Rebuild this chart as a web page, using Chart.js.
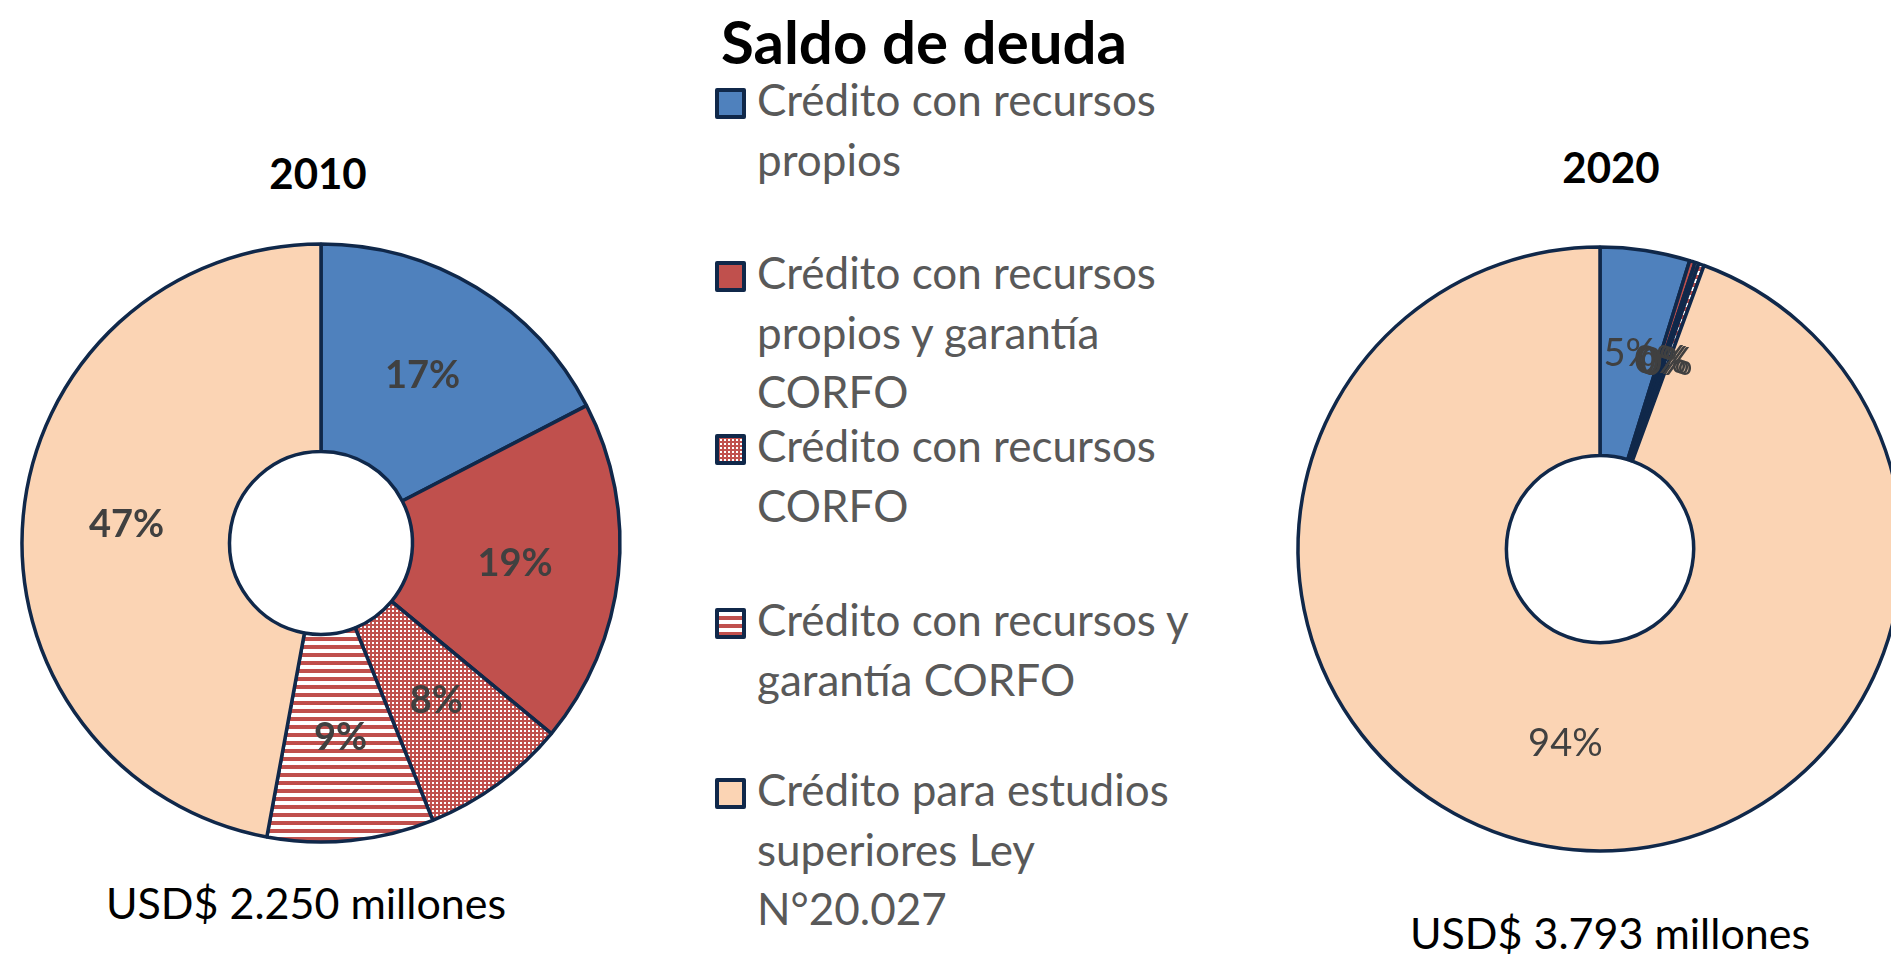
<!DOCTYPE html>
<html>
<head>
<meta charset="utf-8">
<script src="https://cdn.jsdelivr.net/npm/chart.js@4.4.1/dist/chart.umd.min.js"></script>
<style>
  html, body { margin: 0; padding: 0; background: #fff; }
  body { width: 1891px; height: 957px; overflow: hidden; position: relative; font-family: Lato, "Noto Sans", sans-serif; }
  .txt { position: absolute; white-space: nowrap; line-height: 1.2; }
  .center { width: 1000px; text-align: center; }
  canvas.pie { position: absolute; }
  .legend-item { position: absolute; left: 715px; }
  .legend-item canvas { position: absolute; left: 0; }
  .legend-item .lbl { position: absolute; left: 42px; color: #595959; font-size: 44px; line-height: 59.5px; white-space: nowrap; }
</style>
</head>
<body>
<div class="txt center" id="mainTitle" style="left:424px; top:5px; font-size:60px; font-weight:700; color:#000;"></div>
<div class="txt center" id="year0" style="left:-182px; top:148px; font-size:42px; font-weight:700; color:#000;"></div>
<div class="txt center" id="year1" style="left:1111px; top:142px; font-size:42px; font-weight:700; color:#000;"></div>
<div class="txt center" id="total0" style="left:-194px; top:877px; font-size:43px; color:#000;"></div>
<div class="txt center" id="total1" style="left:1110px; top:907px; font-size:43px; color:#000;"></div>
<canvas class="pie" id="pie2010" width="660" height="660" style="left:-9px; top:213px;"></canvas>
<canvas class="pie" id="pie2020" width="660" height="660" style="left:1270px; top:219px;"></canvas>
<div id="legend"></div>

<script>
  // data
  const chartTitle = "Saldo de deuda";
  const categories = [
    ["Crédito con recursos", "propios"],
    ["Crédito con recursos", "propios y garantía", "CORFO"],
    ["Crédito con recursos", "CORFO"],
    ["Crédito con recursos y", "garantía CORFO"],
    ["Crédito para estudios", "superiores Ley", "N°20.027"],
  ];
  const years = ["2010", "2020"];
  const values2010 = [17.4, 18.6, 7.9, 9.0, 47.1];
  const values2020 = [4.8, 0.3, 0.2, 0.3, 94.4];
  const totals = ["USD$ 2.250 millones", "USD$ 3.793 millones"];

  const navy = "#10284A";
  const blue = "#4F81BD";
  const red = "#C0504D";
  const peach = "#FBD4B4";

  function makePattern(size, draw) {
    const c = document.createElement("canvas");
    c.width = size;
    c.height = size;
    const g = c.getContext("2d");
    draw(g);
    return g.createPattern(c, "repeat");
  }

  const dotted = makePattern(4, (g) => {
    g.fillStyle = red;
    g.fillRect(0, 0, 4, 4);
    g.fillStyle = "#fff";
    g.fillRect(1, 1, 2, 2);
  });

  const striped = makePattern(8, (g) => {
    g.fillStyle = "#fff";
    g.fillRect(0, 0, 8, 8);
    g.fillStyle = red;
    g.fillRect(0, 0, 8, 4);
  });

  const fills = [blue, red, dotted, striped, peach];

  document.getElementById("mainTitle").textContent = chartTitle;
  years.forEach((y, i) => (document.getElementById("year" + i).textContent = y));
  totals.forEach((t, i) => (document.getElementById("total" + i).textContent = t));

  // legend
  const legendTops = [82, 255, 428, 602, 772];
  const legend = document.getElementById("legend");
  categories.forEach((lines, i) => {
    const item = document.createElement("div");
    item.className = "legend-item";
    item.style.top = legendTops[i] + "px";
    const box = document.createElement("canvas");
    box.width = 31;
    box.height = 31;
    box.style.top = "6px";
    const g = box.getContext("2d");
    g.fillStyle = fills[i];
    g.fillRect(2, 2, 27, 27);
    g.strokeStyle = navy;
    g.lineWidth = 4;
    g.lineJoin = "round";
    g.strokeRect(2, 2, 27, 27);
    const lbl = document.createElement("div");
    lbl.className = "lbl";
    lbl.style.top = "-12px";
    lbl.innerHTML = lines.join("<br>");
    item.appendChild(box);
    item.appendChild(lbl);
    legend.appendChild(item);
  });

  const sliceLabels = {
    id: "sliceLabels",
    afterDatasetsDraw(chart, args, opts) {
      const { ctx } = chart;
      const data = chart.data.datasets[0].data;
      const total = data.reduce((a, b) => a + b, 0);
      ctx.save();
      ctx.font = opts.font;
      ctx.fillStyle = opts.color;
      ctx.textAlign = "center";
      ctx.textBaseline = "middle";
      chart.getDatasetMeta(0).data.forEach((arc, i) => {
        const p = arc.getCenterPoint();
        ctx.fillText(Math.round((data[i] / total) * 100) + "%", p.x, p.y);
      });
      ctx.restore();
    },
  };

  function drawPie(id, values, labelFont, cutout, radius) {
    new Chart(document.getElementById(id), {
      type: "doughnut",
      data: {
        labels: categories.map((c) => c.join(" ")),
        datasets: [
          {
            data: values,
            backgroundColor: fills,
            borderColor: navy,
            borderWidth: 3.5,
          },
        ],
      },
      options: {
        responsive: false,
        animation: false,
        events: [],
        cutout: cutout,
        radius: radius,
        layout: { padding: 0 },
        plugins: {
          legend: { display: false },
          tooltip: { enabled: false },
          sliceLabels: { font: labelFont, color: "#404040" },
        },
      },
      plugins: [sliceLabels],
    });
  }

  drawPie("pie2010", values2010, "bold 38px Lato", "30.6%", 299);
  drawPie("pie2020", values2020, "38px Lato", "31%", 302);
</script>
</body>
</html>
